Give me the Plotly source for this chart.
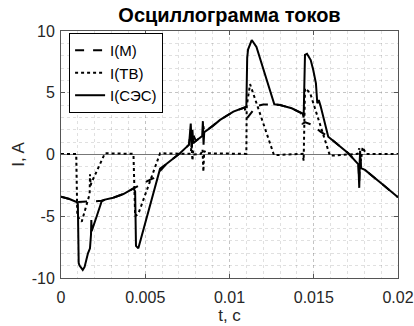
import plotly.graph_objects as go

# I(СЭС) — solid
t_ses = [0, 0.0005, 0.00093, 0.00100, 0.00105, 0.00110, 0.00129, 0.00140, 0.00160, 0.00172,
         0.00178, 0.00180, 0.00182, 0.00212, 0.00241, 0.00261, 0.0031, 0.0037, 0.0043, 0.00440,
         0.00445, 0.00459, 0.00520, 0.00588, 0.00627, 0.00706, 0.00760, 0.00770, 0.00776, 0.00780,
         0.00785, 0.00800, 0.00838, 0.00842, 0.00846, 0.00850, 0.00900, 0.00944, 0.01023, 0.01100,
         0.01105, 0.01110, 0.01132, 0.01160, 0.01266, 0.01300, 0.01369, 0.01434, 0.01440, 0.01448,
         0.01460, 0.01482, 0.01497, 0.01513, 0.01521, 0.01530, 0.01541, 0.01557, 0.01586, 0.01705,
         0.01765, 0.01770, 0.01775, 0.01780, 0.01804, 0.01913, 0.02]
i_ses = [-3.42, -3.6, -3.85, -4.0, -8.8, -9.0, -9.35, -9.1, -8.0, -7.6,
         -6.5, -5.3, -6.2, -5.0, -3.8, -3.65, -3.5, -3.2, -2.74, -3.0,
         -7.4, -7.6, -4.5, -1.15, -0.75, 0.1, 0.8, 2.5, 0.5, 2.0,
         0.9, 1.1, 1.5, 2.7, 0.8, 1.8, 2.3, 2.8, 3.47, 3.87,
         7.8, 8.5, 9.27, 8.7, 4.06, 4.0, 3.74, 3.33, 3.0, 8.06,
         8.15, 7.65, 6.84, 5.76, 4.15, 4.4, 3.9, 3.06, 1.44, 0.1,
         -0.8, -2.7, 0.3, -1.1, -1.25, -2.47, -3.47]

# I(M) — dashed
t_m = [0, 0.0005, 0.00093, 0.0012, 0.0018, 0.0024, 0.00261, 0.0031, 0.0037, 0.0043,
       0.0047, 0.0051, 0.0055, 0.0059, 0.00627, 0.00706, 0.0076, 0.0077, 0.00776, 0.0078,
       0.0080, 0.0084, 0.00845, 0.0085, 0.0090, 0.00944, 0.01023, 0.0109, 0.01102, 0.0116,
       0.0120, 0.01266, 0.0130, 0.01369, 0.01425, 0.01434, 0.0145, 0.0149, 0.0154, 0.01586,
       0.01705, 0.01765, 0.0177, 0.01775, 0.0178, 0.01804, 0.01913, 0.02]
i_m = [-3.42, -3.6, -3.85, -3.85, -3.8, -3.75, -3.65, -3.5, -3.2, -2.74,
       -2.47, -2.2, -1.9, -1.3, -0.75, 0.1, 0.8, 2.0, 0.6, 1.8,
       1.1, 1.5, 2.3, 1.8, 2.3, 2.8, 3.47, 3.8, 2.9, 3.93,
       4.05, 4.06, 4.0, 3.74, 3.35, 2.5, 2.6, 2.4, 1.85, 1.44,
       0.1, -0.8, -2.2, 0.2, -1.1, -1.25, -2.47, -3.47]

# I(ТВ) — dotted
t_tb = [0, 0.00090, 0.00097, 0.00113, 0.00123, 0.0017, 0.00172, 0.00176, 0.0018, 0.00261,
        0.0043, 0.00440, 0.00459, 0.00588, 0.0077, 0.00775, 0.0078, 0.00785, 0.0079, 0.0083,
        0.00840, 0.00845, 0.0085, 0.0086, 0.0110, 0.01102, 0.01122, 0.01264, 0.01434, 0.01440,
        0.01448, 0.01478, 0.01596, 0.0176, 0.0177, 0.0178, 0.0179, 0.0181, 0.02]
i_tb = [0.05, 0.05, -5.0, -5.3, -5.44, -3.2, -1.6, -2.5, -2.3, 0.1,
        0.05, -5.0, -4.8, 0.1, 0.05, 0.8, -0.5, 0.3, 0.0, 0.05,
        0.4, -1.4, 0.3, 0.1, 0.05, 3.9, 5.7, -0.05, 0.05, -0.5,
        5.36, 5.0, -0.1, 0.05, 0.5, -0.5, 0.6, 0.05, 0.05]

x_ticks = [0, 0.005, 0.01, 0.015, 0.02]
x_labels = ["0", "0.005", "0.01", "0.015", "0.02"]
y_ticks = [-10, -5, 0, 5, 10]
y_labels = ["-10", "-5", "0", "5", "10"]

FONT = "Liberation Sans, Arial, sans-serif"

fig = go.Figure()
fig.add_trace(go.Scatter(x=t_m, y=i_m, mode="lines", name="I(M)",
                         line=dict(color="black", width=2, dash="dash")))
fig.add_trace(go.Scatter(x=t_tb, y=i_tb, mode="lines", name="I(ТВ)",
                         line=dict(color="black", width=2, dash="dot")))
fig.add_trace(go.Scatter(x=t_ses, y=i_ses, mode="lines", name="I(СЭС)",
                         line=dict(color="black", width=2)))

grid = "rgba(0,0,0,0.12)"
fig.update_layout(
    width=414, height=326,
    margin=dict(l=61, r=16, t=31, b=48),
    paper_bgcolor="white", plot_bgcolor="white",
    font=dict(family=FONT, size=16, color="#262626"),
    title=dict(text="<b>Осциллограмма токов</b>", x=0.5, xref="paper",
               y=1 - 15 / 326, yref="container", yanchor="middle",
               font=dict(size=20, color="black")),
    showlegend=True,
    legend=dict(x=0.024, y=0.992, xanchor="left", yanchor="top",
                bgcolor="white", bordercolor="black", borderwidth=1,
                font=dict(size=15, color="black"), tracegroupgap=0,
                itemwidth=30),
    xaxis=dict(range=[0, 0.02], tickvals=x_ticks, ticktext=x_labels,
               automargin=False,
               showline=True, linecolor="#555", linewidth=1, mirror="ticks",
               ticks="inside", ticklen=4, tickcolor="#555", ticklabelstandoff=5,
               showgrid=True, gridcolor=grid, griddash="dot", gridwidth=1,
               minor=dict(dtick=0.001, showgrid=True, gridcolor=grid, griddash="dot"),
               zeroline=False,
               title=dict(text="t, c", standoff=2, font=dict(size=17))),
    yaxis=dict(range=[-10, 10], tickvals=y_ticks, ticktext=y_labels,
               automargin=False,
               showline=True, linecolor="#555", linewidth=1, mirror="ticks",
               ticks="inside", ticklen=4, tickcolor="#555", ticklabelstandoff=2,
               showgrid=True, gridcolor=grid, griddash="dot", gridwidth=1,
               minor=dict(dtick=1, showgrid=True, gridcolor=grid, griddash="dot"),
               zeroline=True, zerolinecolor="#777", zerolinewidth=1,
               title=dict(text="I, A", standoff=2, font=dict(size=17))),
)

fig.write_html("out.html")
